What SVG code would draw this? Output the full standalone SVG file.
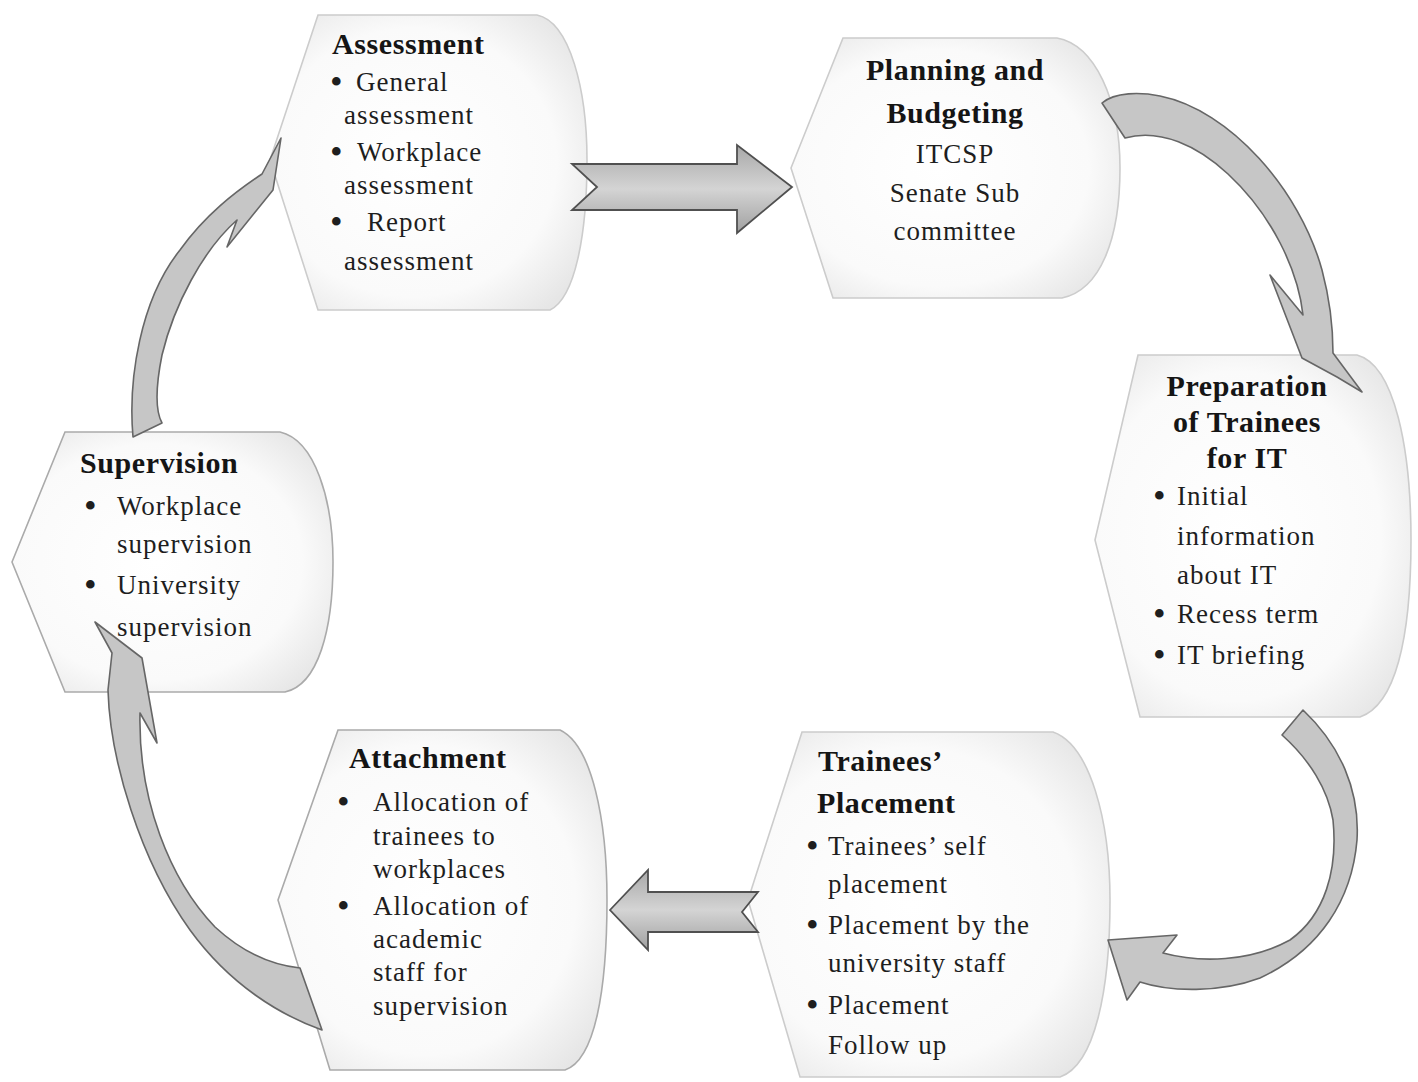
<svg xmlns="http://www.w3.org/2000/svg" width="1418" height="1082" viewBox="0 0 1418 1082">
<defs>
  <radialGradient id="nodeFill" cx="0.45" cy="0.5" r="0.65">
    <stop offset="0" stop-color="#ffffff"/>
    <stop offset="0.7" stop-color="#fafafa"/>
    <stop offset="1" stop-color="#e6e6e6"/>
  </radialGradient>
  <linearGradient id="blockFill" x1="0" y1="0" x2="0" y2="1">
    <stop offset="0" stop-color="#a8a8a8"/>
    <stop offset="0.5" stop-color="#d4d4d4"/>
    <stop offset="1" stop-color="#a0a0a0"/>
  </linearGradient>
</defs>
<style>
  .node { fill: url(#nodeFill); stroke: #cccccc; stroke-width: 1.6; }
  .node.dark { stroke: #aaaaaa; }
  .title { font-family: "Liberation Serif", "Times New Roman", serif; font-weight: bold; font-size: 30px; letter-spacing: 0.6px; fill: #151515; }
  .body { font-family: "Liberation Serif", "Times New Roman", serif; font-size: 27px; letter-spacing: 1px; fill: #1e1e1e; }
  .bul { font-family: "Liberation Serif", "Times New Roman", serif; font-size: 36px; fill: #1e1e1e; }
  .center { text-anchor: middle; }
  .curve { fill: #c6c6c6; stroke: #666666; stroke-width: 1.6; stroke-linejoin: round; }
  .block { fill: url(#blockFill); stroke: #505050; stroke-width: 1.8; stroke-linejoin: miter; }
</style>
<rect width="1418" height="1082" fill="#ffffff"/>

<g id="node-assessment">
  <path class="node" d="M 270,160 L 318,15 L 537,15 C 570,22 587,90 587,160 C 587,235 575,298 550,310 L 318,310 Z"/>
  <text class="title" x="332" y="54">Assessment</text>
  <text class="bul" x="330" y="94">•</text>
  <text class="body" x="356" y="91">General</text>
  <text class="body" x="344" y="124">assessment</text>
  <text class="bul" x="330" y="164">•</text>
  <text class="body" x="357" y="161">Workplace</text>
  <text class="body" x="344" y="194">assessment</text>
  <text class="bul" x="330" y="234">•</text>
  <text class="body" x="367" y="231">Report</text>
  <text class="body" x="344" y="270">assessment</text>
</g>

<g id="node-planning">
  <path class="node" d="M 791,168 L 843,38 L 1057,38 C 1095,45 1120,100 1120,168 C 1120,240 1100,290 1062,298 L 833,298 Z"/>
  <text class="title center" x="955" y="80">Planning and</text>
  <text class="title center" x="955" y="123">Budgeting</text>
  <text class="body center" x="955" y="163">ITCSP</text>
  <text class="body center" x="955" y="202">Senate Sub</text>
  <text class="body center" x="955" y="240">committee</text>
</g>

<g id="node-preparation">
  <path class="node" d="M 1095,540 L 1138,355 L 1357,355 C 1395,365 1411,450 1411,540 C 1411,640 1395,705 1360,717 L 1140,717 Z"/>
  <text class="title center" x="1247" y="396">Preparation</text>
  <text class="title center" x="1247" y="432">of Trainees</text>
  <text class="title center" x="1247" y="468">for IT</text>
  <text class="bul" x="1153" y="508">•</text>
  <text class="body" x="1177" y="505">Initial</text>
  <text class="body" x="1177" y="545">information</text>
  <text class="body" x="1177" y="584">about IT</text>
  <text class="bul" x="1153" y="626">•</text>
  <text class="body" x="1177" y="623">Recess term</text>
  <text class="bul" x="1153" y="667">•</text>
  <text class="body" x="1177" y="664">IT briefing</text>
</g>

<g id="node-supervision">
  <path class="node dark" d="M 12,562 L 65,432 L 280,432 C 315,440 333,500 333,562 C 333,630 318,685 285,692 L 65,692 Z"/>
  <text class="title" x="80" y="473">Supervision</text>
  <text class="bul" x="84" y="518">•</text>
  <text class="body" x="117" y="515">Workplace</text>
  <text class="body" x="117" y="553">supervision</text>
  <text class="bul" x="84" y="597">•</text>
  <text class="body" x="117" y="594">University</text>
  <text class="body" x="117" y="636">supervision</text>
</g>

<g id="node-attachment">
  <path class="node dark" d="M 278,900 L 338,730 L 560,730 C 592,745 607,820 607,900 C 607,990 595,1060 565,1070 L 330,1070 Z"/>
  <text class="title" x="349" y="768">Attachment</text>
  <text class="bul" x="337" y="814">•</text>
  <text class="body" x="373" y="811">Allocation of</text>
  <text class="body" x="373" y="845">trainees to</text>
  <text class="body" x="373" y="878">workplaces</text>
  <text class="bul" x="337" y="918">•</text>
  <text class="body" x="373" y="915">Allocation of</text>
  <text class="body" x="373" y="948">academic</text>
  <text class="body" x="373" y="981">staff for</text>
  <text class="body" x="373" y="1015">supervision</text>
</g>

<g id="node-placement">
  <path class="node" d="M 748,900 L 802,732 L 1053,732 C 1090,745 1110,820 1110,900 C 1110,990 1095,1065 1060,1077 L 800,1077 Z"/>
  <text class="title" x="818" y="771">Trainees’</text>
  <text class="title" x="817" y="813">Placement</text>
  <text class="bul" x="806" y="858">•</text>
  <text class="body" x="828" y="855">Trainees’ self</text>
  <text class="body" x="828" y="893">placement</text>
  <text class="bul" x="806" y="937">•</text>
  <text class="body" x="828" y="934">Placement by the</text>
  <text class="body" x="828" y="972">university staff</text>
  <text class="bul" x="806" y="1017">•</text>
  <text class="body" x="828" y="1014">Placement</text>
  <text class="body" x="828" y="1054">Follow up</text>
</g>

<g id="connectors">
  <!-- Assessment -> Planning -->
  <polygon class="block" points="572,164 737,164 737,145 792,187 737,233 737,210 572,210 597,187"/>
  <!-- Placement -> Attachment -->
  <polygon class="block" points="610,910 648,870 648,892 758,892 742,912 758,932 648,932 648,950"/>
  <!-- Planning -> Preparation -->
  <path class="curve" d="M 1102,103 C 1115,92 1140,92 1160,96 C 1230,110 1300,190 1322,270 C 1330,300 1333,330 1333,353 L 1362,392 L 1337,377 L 1302,358 L 1270,275 L 1303,315 C 1298,270 1272,215 1228,174 C 1198,146 1160,128 1125,138 Z"/>
  <!-- Preparation -> Placement -->
  <path class="curve" d="M 1303,710 C 1340,745 1360,790 1357,840 C 1352,900 1320,950 1260,978 C 1220,993 1170,992 1140,982 L 1127,1000 L 1108,940 L 1177,935 L 1163,953 C 1200,963 1250,962 1290,940 C 1325,915 1338,870 1333,820 C 1328,790 1310,760 1282,735 Z"/>
  <!-- Attachment -> Supervision -->
  <path class="curve" d="M 95,622 L 142,658 L 157,743 L 140,713 C 138,800 170,880 215,927 C 240,950 270,965 300,968 L 322,1030 C 280,1015 230,985 190,930 C 140,860 110,760 108,690 L 112,653 Z"/>
  <!-- Supervision -> Assessment -->
  <path class="curve" d="M 281,138 L 273,190 L 227,247 L 237,220 C 203,250 174,305 162,355 C 155,390 156,412 162,423 L 133,437 C 128,380 140,300 180,250 C 205,215 235,192 262,174 Z"/>
</g>
</svg>
